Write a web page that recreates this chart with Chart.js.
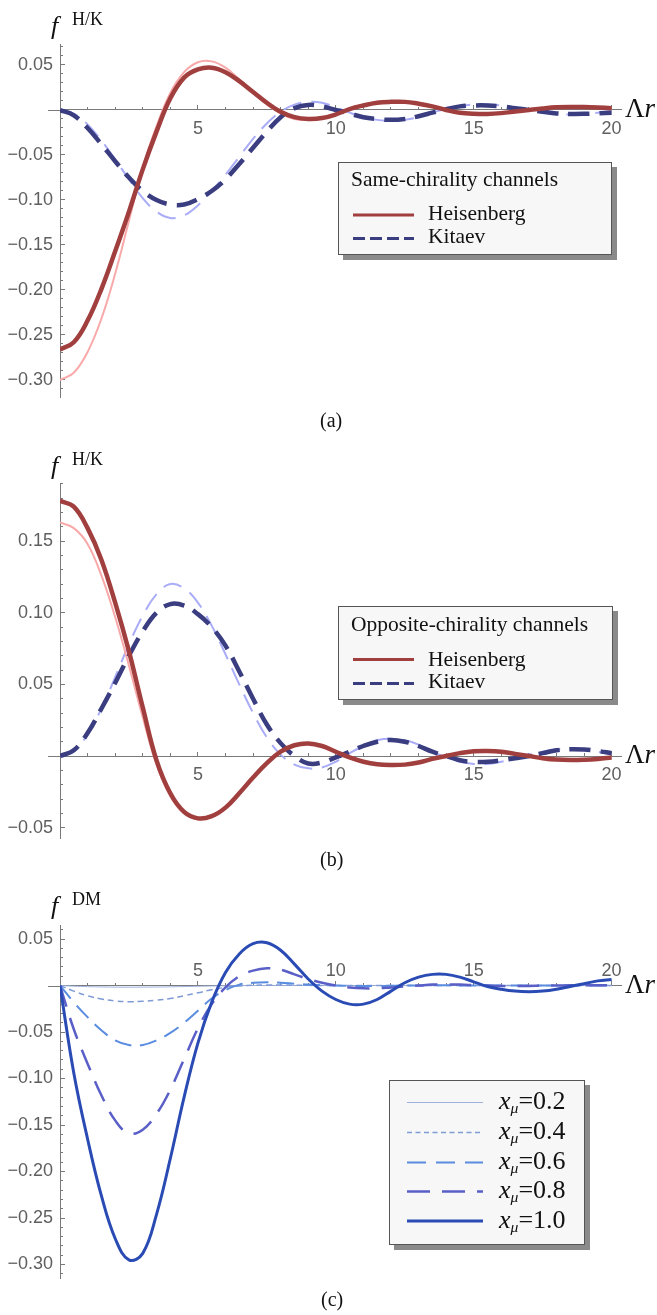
<!DOCTYPE html>
<html>
<head>
<meta charset="utf-8">
<script src="https://cdn.jsdelivr.net/npm/chart.js@4.4.1/dist/chart.umd.min.js"></script>
<style>
body { margin: 0; background: #fff; width: 657px; height: 1315px; position: relative; overflow: hidden;
       font-family: "Liberation Serif", "Times New Roman", serif; color: #111; }
canvas { position: absolute; left: 0; }
.t { position: absolute; white-space: nowrap; line-height: 1; }
.box { position: absolute; background: #f7f7f7; border: 1px solid #555; box-shadow: 5px 5px 0 #8a8a8a; box-sizing: border-box; }
sub { font-size: 0.6em; vertical-align: -0.25em; }
</style>
</head>
<body>
<canvas id="chartA" width="657" height="440" style="top:0px"></canvas>
<canvas id="chartB" width="657" height="440" style="top:440px"></canvas>
<canvas id="chartC" width="657" height="435" style="top:880px"></canvas>

<div class="box" style="left:338px;top:162px;width:274px;height:93px"></div>
<div class="box" style="left:338px;top:606px;width:275px;height:94px"></div>
<div class="box" style="left:389px;top:1080px;width:196px;height:165px"></div>

<svg id="keys" width="657" height="1315" style="position:absolute;left:0;top:0">
  <!-- panel a legend -->
  <line x1="353" x2="414" y1="215" y2="215" stroke="#a13f3f" stroke-width="3"/>
  <line x1="353" x2="414" y1="238.5" y2="238.5" stroke="#3a3d80" stroke-width="3" stroke-dasharray="12 5"/>
  <!-- panel b legend -->
  <line x1="353" x2="414" y1="659.5" y2="659.5" stroke="#a13f3f" stroke-width="3"/>
  <line x1="353" x2="414" y1="683.5" y2="683.5" stroke="#3a3d80" stroke-width="3" stroke-dasharray="12 5"/>
  <!-- panel c legend -->
  <line x1="407" x2="483" y1="1102.5" y2="1102.5" stroke="#9db2dc" stroke-width="1"/>
  <line x1="407" x2="483" y1="1132.5" y2="1132.5" stroke="#7f9bd6" stroke-width="1.5" stroke-dasharray="5 3.5"/>
  <line x1="407" x2="483" y1="1162.5" y2="1162.5" stroke="#5a8ce0" stroke-width="2" stroke-dasharray="19 10"/>
  <line x1="407" x2="483" y1="1191.5" y2="1191.5" stroke="#5a5fc8" stroke-width="2.5" stroke-dasharray="23 12"/>
  <line x1="407" x2="483" y1="1221" y2="1221" stroke="#2a4bb4" stroke-width="3"/>
</svg>

<script>
// x grid shared by all curves (Lambda r)
const xs = [0, 0.5, 1, 1.5, 2, 2.5, 3, 3.5, 4, 4.5, 5, 5.5, 6, 6.5, 7, 7.5, 8, 8.5, 9, 9.5, 10,
            10.5, 11, 11.5, 12, 12.5, 13, 13.5, 14, 14.5, 15, 15.5, 16, 16.5, 17, 17.5, 18, 18.5, 19, 19.5, 20];

// (a) same-chirality
const aHeis = [-0.266, -0.258, -0.234, -0.199, -0.157, -0.113, -0.066, -0.024, 0.013, 0.036, 0.045,
               0.047, 0.042, 0.032, 0.020, 0.008, -0.002, -0.008, -0.010, -0.009, -0.005,
               0.001, 0.005, 0.008, 0.009, 0.009, 0.007, 0.004, 0.000, -0.003, -0.0042,
               -0.0044, -0.0035, -0.0018, 0.000, 0.0017, 0.003, 0.0034, 0.0032, 0.0027, 0.002];
const aHeisLight = [-0.300, -0.292, -0.269, -0.232, -0.182, -0.123, -0.064, -0.018, 0.019, 0.042, 0.053,
                    0.054, 0.047, 0.034, 0.020, 0.006, -0.004, -0.010, -0.011, -0.009, -0.005,
                    0.001, 0.006, 0.009, 0.010, 0.0095, 0.007, 0.0035, 0.000, -0.003, -0.0045,
                    -0.0047, -0.0037, -0.0018, 0.000, 0.0018, 0.0031, 0.0036, 0.0033, 0.0027, 0.002];
const aKit = [0, -0.006, -0.020, -0.038, -0.057, -0.075, -0.090, -0.100, -0.105, -0.105, -0.099,
              -0.090, -0.077, -0.060, -0.042, -0.024, -0.008, 0.002, 0.0056, 0.004, 0.000,
              -0.004, -0.008, -0.010, -0.011, -0.010, -0.007, -0.003, 0.001, 0.004, 0.005,
              0.005, 0.004, 0.002, 0.000, -0.002, -0.0038, -0.0044, -0.0043, -0.0037, -0.003];
const aKitLight = [0, -0.004, -0.016, -0.034, -0.055, -0.077, -0.098, -0.113, -0.120, -0.117, -0.106,
                   -0.090, -0.072, -0.052, -0.032, -0.015, -0.002, 0.006, 0.009, 0.008, 0.003,
                   -0.003, -0.008, -0.011, -0.012, -0.011, -0.008, -0.003, 0.001, 0.004, 0.006,
                   0.006, 0.005, 0.002, -0.001, -0.003, -0.0045, -0.005, -0.0045, -0.003, -0.001];

// (b) opposite-chirality
const bHeis = [0.178, 0.174, 0.159, 0.137, 0.107, 0.073, 0.034, -0.003, -0.026, -0.039, -0.0435,
               -0.042, -0.036, -0.026, -0.015, -0.005, 0.003, 0.0075, 0.0088, 0.007, 0.003,
               -0.001, -0.004, -0.0058, -0.0063, -0.006, -0.0045, -0.002, 0.000, 0.002, 0.0033,
               0.0035, 0.003, 0.0015, 0.000, -0.0015, -0.0025, -0.0028, -0.0026, -0.002, -0.001];
const bHeisLight = [0.163, 0.159, 0.148, 0.126, 0.097, 0.063, 0.027, -0.006, -0.028, -0.040, -0.044,
                    -0.042, -0.036, -0.026, -0.015, -0.005, 0.003, 0.0078, 0.009, 0.0072, 0.003,
                    -0.001, -0.004, -0.006, -0.0065, -0.006, -0.0045, -0.002, 0.000, 0.002, 0.0034,
                    0.0036, 0.003, 0.0015, 0.000, -0.0015, -0.0025, -0.0029, -0.0027, -0.002, -0.001];
const bKit = [0, 0.004, 0.016, 0.033, 0.051, 0.070, 0.087, 0.100, 0.106, 0.105, 0.099,
              0.090, 0.077, 0.059, 0.040, 0.022, 0.009, 0.000, -0.0052, -0.0045, -0.001,
              0.003, 0.007, 0.010, 0.0112, 0.010, 0.007, 0.003, 0.000, -0.003, -0.004,
              -0.004, -0.003, -0.0015, 0.000, 0.002, 0.004, 0.0047, 0.0045, 0.0035, 0.002];
const bKitLight = [0, 0.004, 0.015, 0.033, 0.055, 0.078, 0.098, 0.113, 0.120, 0.117, 0.107,
                   0.091, 0.071, 0.050, 0.030, 0.013, 0.001, -0.006, -0.0086, -0.008, -0.004,
                   0.002, 0.007, 0.011, 0.012, 0.011, 0.008, 0.003, -0.001, -0.004, -0.0055,
                   -0.0055, -0.004, -0.0015, 0.001, 0.003, 0.0045, 0.005, 0.0045, 0.003, 0.001];

// (c) DM term for several x_mu
const c10 = [0, -0.094, -0.165, -0.226, -0.272, -0.295, -0.288, -0.246, -0.186, -0.120, -0.062,
             -0.018, 0.014, 0.034, 0.045, 0.046, 0.038, 0.023, 0.007, -0.006, -0.015,
             -0.020, -0.020, -0.015, -0.006, 0.003, 0.009, 0.012, 0.012, 0.009, 0.004,
             -0.001, -0.004, -0.006, -0.0066, -0.006, -0.004, -0.001, 0.002, 0.005, 0.0066];
const c08 = [0, -0.047, -0.084, -0.118, -0.145, -0.159, -0.155, -0.138, -0.112, -0.079, -0.046,
             -0.020, -0.002, 0.010, 0.016, 0.0185, 0.017, 0.012, 0.007, 0.003, 0.000,
             -0.002, -0.003, -0.003, -0.002, -0.001, 0.000, 0.001, 0.0012, 0.001, 0.0005,
             0.000, -0.0004, -0.0005, -0.0004, -0.0002, 0.000, 0.0002, 0.0003, 0.0003, 0.0002];
const c06 = [0, -0.018, -0.034, -0.048, -0.059, -0.064, -0.064, -0.059, -0.051, -0.040, -0.027,
             -0.014, -0.005, 0.001, 0.003, 0.0035, 0.003, 0.002, 0.001, 0.0005, 0.000,
             -0.0003, -0.0005, -0.0005, -0.0003, 0.000, 0.0001, 0.0002, 0.0002, 0.0001, 0.000,
             0, 0, 0, 0, 0, 0, 0, 0, 0, 0];
const c04 = [0, -0.006, -0.011, -0.0145, -0.0166, -0.0174, -0.017, -0.0157, -0.014, -0.011, -0.0078,
             -0.0045, -0.002, -0.0005, 0.0003, 0.0006, 0.0006, 0.0004, 0.0002, 0, 0,
             0, 0, 0, 0, 0, 0, 0, 0, 0, 0, 0, 0, 0, 0, 0, 0, 0, 0, 0, 0];
const c02 = [0, -0.0007, -0.0012, -0.0015, -0.0017, -0.0018, -0.0017, -0.0016, -0.0014, -0.0011, -0.0008,
             -0.0005, -0.0003, -0.0001, 0, 0, 0, 0, 0, 0, 0,
             0, 0, 0, 0, 0, 0, 0, 0, 0, 0, 0, 0, 0, 0, 0, 0, 0, 0, 0, 0];

const xMax = 20.34;

function pts(arr) {
    return xs.map(function (x, i) { return { x: x, y: arr[i] }; });
}

function fmtY(v) {
    if (Math.abs(v) < 1e-9) return '';
    var s = Math.abs(v).toFixed(2);
    return v < 0 ? '\u2212' + s : s;
}

const tickFont = { family: 'Liberation Sans', size: 18 };
const axisGray = '#7a7a7a';
const labelGray = '#5f5f5f';

function buildScales(yMin, yMax, xPad) {
    return {
        x: {
            type: 'linear', min: 0, max: xMax, position: { y: 0 },
            ticks: { stepSize: 5, includeBounds: false, autoSkip: false, maxRotation: 0, font: tickFont,
                     color: labelGray, padding: xPad, callback: function (v) { return v === 0 ? '' : String(v); } },
            grid: { drawOnChartArea: false, tickLength: -5, tickColor: axisGray },
            border: { color: axisGray, width: 1 },
            afterFit: function (s) { s.height = 0; }
        },
        xm: {
            type: 'linear', min: 0, max: xMax, position: { y: 0 },
            ticks: { stepSize: 1, includeBounds: false, display: false },
            grid: { drawOnChartArea: false, tickLength: -3, tickColor: axisGray },
            border: { display: false },
            afterFit: function (s) { s.height = 0; }
        },
        // labelled axis sits outermost and owns the 60px left margin
        y: {
            type: 'linear', position: 'left', weight: 1, min: yMin, max: yMax,
            ticks: { stepSize: 0.05, includeBounds: false, autoSkip: false, font: tickFont, color: labelGray,
                     padding: 12, callback: fmtY },
            grid: { drawOnChartArea: false, tickLength: -5, tickColor: axisGray },
            border: { color: axisGray, width: 1 },
            afterFit: function (s) { s.width = 60; }
        },
        ym: {
            type: 'linear', position: 'left', weight: 0, min: yMin, max: yMax,
            ticks: { stepSize: 0.01, includeBounds: false, display: false },
            grid: { drawOnChartArea: false, tickLength: -3, tickColor: axisGray },
            border: { display: false },
            afterFit: function (s) { s.width = 0; }
        }
    };
}

// short stub of the horizontal axis to the left of the vertical one
const axisStub = {
    id: 'axisStub',
    afterDraw: function (chart) {
        var ctx = chart.ctx, area = chart.chartArea;
        var y0 = Math.round(chart.scales.y.getPixelForValue(0)) + 0.5;
        ctx.save();
        ctx.strokeStyle = axisGray;
        ctx.lineWidth = 1;
        ctx.beginPath();
        ctx.moveTo(area.left - 12, y0);
        ctx.lineTo(area.left, y0);
        ctx.stroke();
        ctx.restore();
    }
};

function line(arr, color, width, dash) {
    return { data: pts(arr), borderColor: color, borderWidth: width, borderDash: dash || [],
             pointRadius: 0, tension: 0.4, fill: false };
}

function makeChart(id, datasets, pad, yMin, yMax, xPad) {
    return new Chart(document.getElementById(id), {
        type: 'line',
        data: { datasets: datasets },
        options: {
            responsive: false, animation: false, devicePixelRatio: 1,
            layout: { padding: pad },
            plugins: { legend: { display: false }, tooltip: { enabled: false } },
            scales: buildScales(yMin, yMax, xPad)
        },
        plugins: [axisStub]
    });
}

const darkRed = '#a13f3f', lightRed = '#f9a9a9', darkBlue = '#3a3d80', lightBlue = '#a9acf7';

makeChart('chartA', [
    line(aHeis, darkRed, 4.5),
    line(aKit, darkBlue, 4.5, [21, 10]),
    line(aHeisLight, lightRed, 2),
    line(aKitLight, lightBlue, 2, [19, 10])
], { left: 0, top: 44, right: 36, bottom: 43 }, -0.3189, 0.0733, 13);

makeChart('chartB', [
    line(bHeis, darkRed, 4.5),
    line(bKit, darkBlue, 4.5, [21, 10]),
    line(bHeisLight, lightRed, 2),
    line(bKitLight, lightBlue, 2, [19, 10])
], { left: 0, top: 43, right: 36, bottom: 42 }, -0.0572, 0.1905, 13);

makeChart('chartC', [
    line(c10, '#2a4bb4', 3),
    line(c08, '#5a5fc8', 2.5, [22, 12]),
    line(c06, '#5a8ce0', 2, [17, 9]),
    line(c04, '#7f9bd6', 1.5, [6, 4]),
    line(c02, '#9db2dc', 1)
], { left: 0, top: 45, right: 36, bottom: 37 }, -0.3145, 0.0651, -20);

// text labels, placed by baseline
function put(html, left, baseline, size, extra) {
    var d = document.createElement('div');
    d.className = 't';
    d.innerHTML = html;
    d.style.left = left + 'px';
    d.style.top = (baseline - 0.84 * size) + 'px';
    d.style.fontSize = size + 'px';
    if (extra) d.style.cssText += extra;
    document.body.appendChild(d);
}

[[0, 'H/K'], [440, 'H/K'], [880, 'DM']].forEach(function (p) {
    put('<i>f</i>', 51, 35 + p[0], 26);
    put(p[1], 72, 25 + p[0], 18);
});
put('\u039B<i>r</i>', 625, 118, 27);
put('\u039B<i>r</i>', 625, 764, 27);
put('\u039B<i>r</i>', 625, 994, 27);
put('(a)', 320, 427, 20);
put('(b)', 320, 866, 20);
put('(c)', 321, 1306, 20);

put('Same-chirality channels', 351, 187.5, 21.5);
put('Heisenberg', 428, 220.7, 21.5);
put('Kitaev', 428, 244.5, 21.5);
put('Opposite-chirality channels', 351, 631.7, 21.5);
put('Heisenberg', 428, 666.7, 21.5);
put('Kitaev', 428, 689.3, 21.5);

['0.2', '0.4', '0.6', '0.8', '1.0'].forEach(function (v, i) {
    var base = [1110, 1140, 1170, 1199, 1228.5][i];
    put('<i>x</i><sub><i>\u03BC</i></sub>=' + v, 499, base, 26);
});
</script>
</body>
</html>
